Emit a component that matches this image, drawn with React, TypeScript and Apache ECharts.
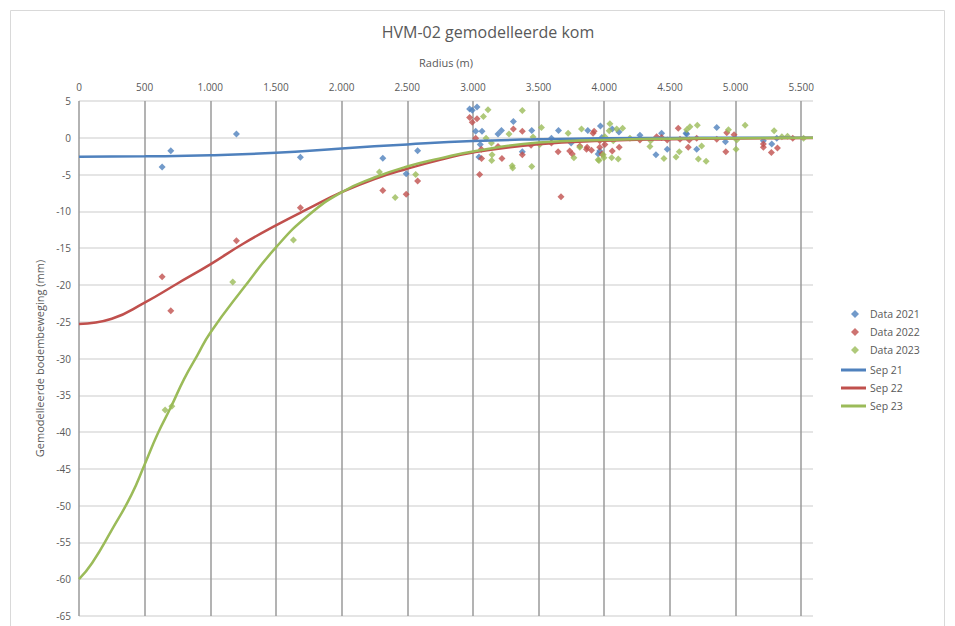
import React, { useEffect, useRef } from "react";
import * as echarts from "echarts";

// Measured subsidence per survey: [radius (m), movement (mm)]
const data2021: [number, number][] = [
  [633, -3.96], [699, -1.76], [1199, 0.5], [1686, -2.66], [2314, -2.79], [2492, -4.9], [2579, -1.76],
  [2975, 3.9], [2995, 3.75], [3031, 4.2], [3021, 0.9], [3069, 0.9], [3056, -0.9], [3046, -2.6], [3191, 0.5], [3217, 1.0],
  [3308, 2.2], [3448, 1.0], [3652, 1.0], [3376, -1.9], [3598, -0.05], [3748, -0.7], [3875, 1.0], [3971, 1.6], [3966, -1.8],
  [4061, 1.2], [4112, 0.8], [3954, -2.2], [3982, 0.05], [4272, 0.35], [4437, 0.6], [4394, -2.3], [4480, -1.55], [4623, 0.6],
  [4857, 1.4], [4923, -0.55], [4704, -1.55], [5212, -0.4], [5276, -0.85], [5314, -0.05], [4628, 0.5],
];

const data2022: [number, number][] = [
  [633, -18.9], [699, -23.5], [1199, -14.0], [1686, -9.5], [2314, -7.16], [2492, -7.66], [2579, -5.86], [3051, -5.0],
  [2975, 2.76], [2995, 2.1], [3031, 2.6], [3021, -0.05], [3064, -1.55], [3066, -2.8], [3191, -1.2], [3221, -2.8],
  [3308, 1.2], [3376, 0.9], [3376, -2.3], [3443, -1.0], [3598, -0.7], [3649, -1.9], [3737, -1.8], [3757, -2.2], [3671, -8.0],
  [3870, -1.3], [3923, 0.9], [3966, -0.4], [3814, -1.1], [3915, 0.6], [3865, -1.55], [3903, -1.7], [3966, -1.3], [3982, -2.2],
  [4005, -0.9], [4061, -1.8], [4114, -1.3], [4272, -0.3], [4399, 0.15], [4437, 0.05], [4480, -0.3], [4564, 1.3], [4577, -0.2],
  [4648, -0.3], [4704, -0.05], [4640, -1.3], [4857, -0.2], [4933, 0.7], [4989, 0.4], [4926, -1.9], [5212, -0.85], [5212, -1.3],
  [5273, -2.0], [5319, -1.4], [5436, -0.05],
];

const data2023: [number, number][] = [
  [656, -37.0], [707, -36.5], [1171, -19.6], [1633, -13.9], [2288, -4.64], [2408, -8.1], [2564, -5.0],
  [3115, 3.8], [3080, 2.9], [3100, -0.05], [3141, -0.7], [3146, -2.3], [3143, -3.1],
  [3376, 3.7], [3275, 0.5], [3522, 1.4], [3458, 0.1], [3299, -3.8], [3303, -4.1], [3448, -3.9], [3725, 0.6], [3827, 1.2],
  [3814, -1.3], [3769, -2.7], [3954, -3.0], [3992, -2.3], [3509, -0.9],
  [4043, 1.9], [4038, 0.95], [4005, 0.15], [4095, 1.2], [4140, 1.3], [4069, -0.4], [4196, -0.05], [4354, -0.4], [4348, -1.2],
  [4455, -2.8], [3960, -3.1], [3998, -2.7], [4057, -2.7], [4107, -2.9], [4547, -2.6], [4572, -1.9], [4628, 1.1],
  [4653, 1.5], [4709, 1.7], [4742, -1.1], [4717, -2.9], [4776, -3.2], [4946, 1.1], [5004, -1.55], [5073, 1.7], [5009, -0.3],
  [5294, 0.95], [5353, 0.15], [5396, 0.2], [5518, -0.05],
];

// Modelled bowl profiles
const sep21: [number, number][] = [
  [0, -2.57], [500, -2.52], [1000, -2.38], [1500, -2.03], [2000, -1.45], [2500, -0.9], [3000, -0.45],
  [3500, -0.2], [4000, -0.06], [4500, -0.02], [5000, 0], [5590, 0],
];

const sep22: [number, number][] = [
  [0, -25.3], [250, -24.6], [500, -22.4], [750, -19.8], [1000, -17.2], [1250, -14.4],
  [1500, -11.9], [1750, -9.6], [2000, -7.4], [2250, -5.6], [2500, -4.2], [2750, -3.0], [3000, -2.0], [3500, -0.87],
  [4000, -0.4], [4500, -0.2], [5000, -0.1], [5590, -0.03],
];

const sep23: [number, number][] = [
  [0, -60], [100, -57.8], [250, -53.3], [400, -48.5], [500, -44.4], [600, -40.2], [700, -36.6], [800, -32.8],
  [900, -29.6], [1000, -26.5], [1250, -20.5], [1500, -14.9], [1750, -10.5], [2000, -7.4], [2250, -5.4], [2500, -3.9],
  [2750, -2.8], [3000, -1.85], [3500, -0.65], [4000, -0.3], [4500, -0.12], [5000, -0.05], [5590, 0],
];

const BLUE = "#4F81BD";
const RED = "#C0504D";
const GREEN = "#9BBB59";
const TEXT = "#595959";
const FONT = "'Open Sans', sans-serif";

const formatThousands = (v: number) =>
  String(Math.round(v)).replace(/\B(?=(\d{3})+(?!\d))/g, ".");

export default function App() {
  const ref = useRef<HTMLDivElement>(null);

  useEffect(() => {
    if (!ref.current) return;
    const chart = echarts.init(ref.current, undefined, { renderer: "svg" });

    const scatter = (name: string, data: [number, number][], color: string) => ({
      name,
      type: "scatter",
      data,
      symbol: "diamond",
      symbolSize: 7,
      itemStyle: { color },
    });

    const line = (name: string, data: [number, number][], color: string) => ({
      name,
      type: "line",
      data,
      smooth: 0.5,
      symbol: "none",
      lineStyle: { color, width: 2.5 },
      itemStyle: { color },
    });

    const legendText = {
      color: TEXT,
      fontSize: 10.5,
      lineHeight: 14,
      fontFamily: FONT,
    };

    chart.setOption({
      animation: false,
      backgroundColor: "#ffffff",
      textStyle: { fontFamily: FONT },
      graphic: [
        {
          type: "rect",
          silent: true,
          shape: { x: 10.5, y: 10.5, width: 934, height: 640 },
          style: { fill: "none", stroke: "#d9d9d9", lineWidth: 1 },
        },
        {
          type: "text",
          x: 488,
          y: 32,
          style: {
            text: "HVM-02 gemodelleerde kom",
            fill: TEXT,
            font: `16px ${FONT}`,
            textAlign: "center",
            textVerticalAlign: "middle",
          },
        },
      ],
      legend: [
        {
          orient: "vertical",
          left: 846,
          top: 302,
          icon: "diamond",
          itemWidth: 8,
          itemHeight: 8,
          itemGap: 4,
          data: ["Data 2021", "Data 2022", "Data 2023"],
          textStyle: { ...legendText, padding: [0, 0, 0, 6] },
        },
        {
          orient: "vertical",
          left: 836,
          top: 358,
          icon: "rect",
          itemWidth: 25,
          itemHeight: 3,
          itemGap: 4,
          data: ["Sep 21", "Sep 22", "Sep 23"],
          textStyle: { ...legendText, padding: [0, 0, 0, -1] },
        },
      ],
      grid: { left: 79, top: 101, right: 142, bottom: 10, containLabel: false },
      xAxis: {
        type: "value",
        position: "top",
        min: 0,
        max: 5590,
        interval: 500,
        name: "Radius (m)",
        nameLocation: "middle",
        nameGap: 33,
        nameTextStyle: { color: TEXT, fontSize: 11, fontFamily: FONT },
        axisLine: { show: false },
        axisTick: { show: false },
        axisLabel: {
          color: TEXT,
          fontSize: 10,
          margin: 9,
          showMaxLabel: false,
          formatter: formatThousands,
        },
        splitLine: {
          show: true,
          showMaxLine: false,
          lineStyle: { color: "#9a9a9a", width: 1.5 },
        },
      },
      yAxis: {
        type: "value",
        min: -65,
        max: 5,
        interval: 5,
        name: "Gemodelleerde bodembeweging (mm)",
        nameLocation: "middle",
        nameGap: 31,
        nameRotate: 90,
        nameTextStyle: { color: TEXT, fontSize: 11, fontFamily: FONT },
        axisLine: { show: false },
        axisTick: { show: false },
        axisLabel: { color: TEXT, fontSize: 10, margin: 8 },
        splitLine: { show: true, lineStyle: { color: "#dcdcdc", width: 1.5 } },
      },
      series: [
        scatter("Data 2021", data2021, BLUE),
        scatter("Data 2022", data2022, RED),
        scatter("Data 2023", data2023, GREEN),
        line("Sep 21", sep21, BLUE),
        line("Sep 22", sep22, RED),
        line("Sep 23", sep23, GREEN),
      ],
    });

    return () => chart.dispose();
  }, []);

  return (
    <div
      ref={ref}
      style={{ position: "absolute", left: 0, top: 0, width: 955, height: 626 }}
    />
  );
}
